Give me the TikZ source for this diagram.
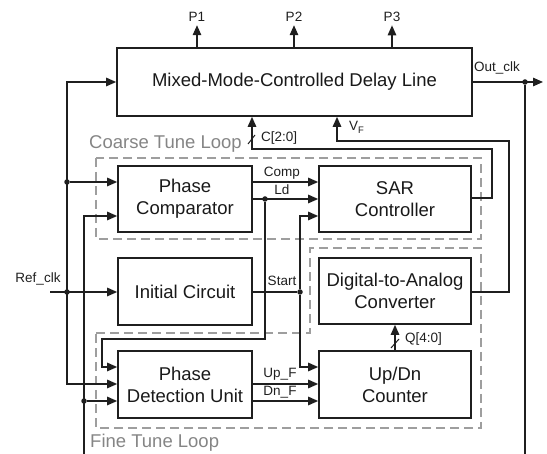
\documentclass[tikz,border=0pt]{standalone}
\usepackage{fontspec}
\setmainfont{Liberation Sans}
\usetikzlibrary{arrows.meta,calc}
\begin{document}
\begin{tikzpicture}[x=1pt,y=-1pt,
  blk/.style={draw=black!88,line width=1.7pt,inner sep=0pt,align=center,
    font=\fontsize{18.5}{22}\selectfont,text=black!90},
  wire/.style={line width=1.35pt,draw=black!88},
  arr/.style={wire,-{Triangle[length=10pt,width=8.5pt]}},
  lbl/.style={font=\fontsize{13.5}{15}\selectfont,inner sep=0pt,text=black!88},
  loopbox/.style={draw=black!38,line width=1.4pt,dash pattern=on 9pt off 5pt},
  looplbl/.style={font=\fontsize{18.5}{22}\selectfont,text=black!48,inner sep=0pt},
  dot/.style={circle,fill=black!88,inner sep=0pt,minimum size=5.5pt},
  slash/.style={line width=1pt,draw=black!88},
]
\useasboundingbox (0,0) rectangle (547,454);

% loop frames
\draw[loopbox] (96,158) rectangle (481,239);
\draw[loopbox] (96,333) -- (310,333) -- (310,248) -- (481,248) -- (481,428) -- (96,428) -- cycle;
\node[looplbl,anchor=base west] (coarsel) at (89,149) {Coarse Tune Loop};
\node[looplbl,anchor=base west] (finel) at (90,448) {Fine Tune Loop};

% blocks
\node[blk,minimum width=355pt,minimum height=68pt] (dl) at (294.5,82) {Mixed-Mode-Controlled Delay Line};
\node[blk,minimum width=134pt,minimum height=66pt] (pc) at (185,199) {Phase\\Comparator};
\node[blk,minimum width=152pt,minimum height=66pt] (sar) at (395,199) {SAR\\Controller};
\node[blk,minimum width=134pt,minimum height=67pt] (ic) at (185,291.5) {Initial Circuit};
\node[blk,minimum width=152pt,minimum height=66pt] (dac) at (395,291) {Digital-to-Analog\\Converter};
\node[blk,minimum width=134pt,minimum height=67pt] (pdu) at (185,384.5) {Phase\\Detection Unit};
\node[blk,minimum width=152pt,minimum height=67pt] (ud) at (395,384.5) {Up/Dn\\Counter};

% outputs P1..P3
\node[lbl,anchor=base] (p1) at (197,22) {P1};
\node[lbl,anchor=base] (p2) at (294,22) {P2};
\node[lbl,anchor=base] (p3) at (392,22) {P3};
\foreach \p in {p1,p2,p3}
  \draw[arr,shorten >=3pt] (dl.north -| \p) -- (\p.south);

% Out_clk
\coordinate (octip) at (543,82);
\coordinate (ocbot) at (525,454);
\node[dot] (joc) at (525,82) {};
\draw[arr] (dl.east |- octip) -- (octip);
\draw[wire] (joc) -- (ocbot);
\node[lbl,anchor=base west] (ocl) at (474,72) {Out\_clk};

% left feedback line x=67
\coordinate (c67t) at (67,82);
\coordinate (c67b) at (67,384);
\draw[arr] (c67b) -- (c67t) -- (dl.west |- c67t);
\draw[arr] (c67t) -- (c67b) -- (pdu.west |- c67b);
\node[dot] (j1) at (67,182) {};
\draw[arr] (j1) -- (pc.west |- j1);

% Ref_clk
\coordinate (rin) at (50,292);
\node[dot] (j2) at (67,292) {};
\draw[arr] (rin) -- (ic.west |- rin);
\node[lbl,anchor=base] (refl) at (38,283) {Ref\_clk};

% line x=84
\coordinate (c84t) at (84,216);
\coordinate (c84b) at (84,454);
\draw[arr] (c84b) -- (c84t) -- (pc.west |- c84t);
\node[dot] (j3) at (84,401) {};
\draw[arr] (j3) -- (pdu.west |- j3);

% Comp and Ld
\draw[arr] (pc.east |- 0,182) -- (sar.west |- 0,182);
\node[lbl,anchor=base] (compl) at (282,177) {Comp};
\node[dot] (jld) at (265,199) {};
\draw[arr] (pc.east |- jld) -- (sar.west |- jld);
\node[lbl,anchor=base] (ldl) at (282,195) {Ld};
\coordinate (ld1) at (265,339);
\coordinate (ld2) at (102,339);
\coordinate (ld3) at (102,367);
\draw[arr] (jld) -- (ld1) -- (ld2) -- (ld3) -- (pdu.west |- ld3);

% Start
\node[dot] (jst) at (300,292) {};
\draw[wire] (ic.east |- jst) -- (jst);
\coordinate (st1) at (300,216);
\coordinate (st2) at (300,367);
\draw[arr] (jst) -- (st1) -- (sar.west |- st1);
\draw[arr] (jst) -- (st2) -- (ud.west |- st2);
\node[lbl,anchor=base] (stl) at (282,286) {Start};

% Up_F, Dn_F
\draw[arr] (pdu.east |- 0,384) -- (ud.west |- 0,384);
\draw[arr] (pdu.east |- 0,401) -- (ud.west |- 0,401);
\node[lbl,anchor=base] (upl) at (280,378) {Up\_F};
\node[lbl,anchor=base] (dnl) at (280,396) {Dn\_F};

% Q[4:0]
\draw[arr] (ud.north) -- (dac.south);
\draw[slash] (391,348) -- (399,339);
\node[lbl,anchor=base west] (ql) at (405,343) {Q[4:0]};

% V_F
\coordinate (vf1) at (509,292);
\coordinate (vf2) at (509,141);
\coordinate (vf3) at (337,141);
\draw[arr] (dac.east |- vf1) -- (vf1) -- (vf2) -- (vf3) -- (dl.south -| vf3);
\node[lbl,anchor=base west] (vfl) at (349,131) {V\textsubscript{F}};

% C[2:0]
\coordinate (cc1) at (492,198);
\coordinate (cc2) at (492,149);
\coordinate (cc3) at (252,149);
\draw[arr] (sar.east |- cc1) -- (cc1) -- (cc2) -- (cc3) -- (dl.south -| cc3);
\draw[slash] (248,144) -- (255,135);
\node[lbl,anchor=base west] (cl) at (261,142) {C[2:0]};
\end{tikzpicture}
\end{document}
